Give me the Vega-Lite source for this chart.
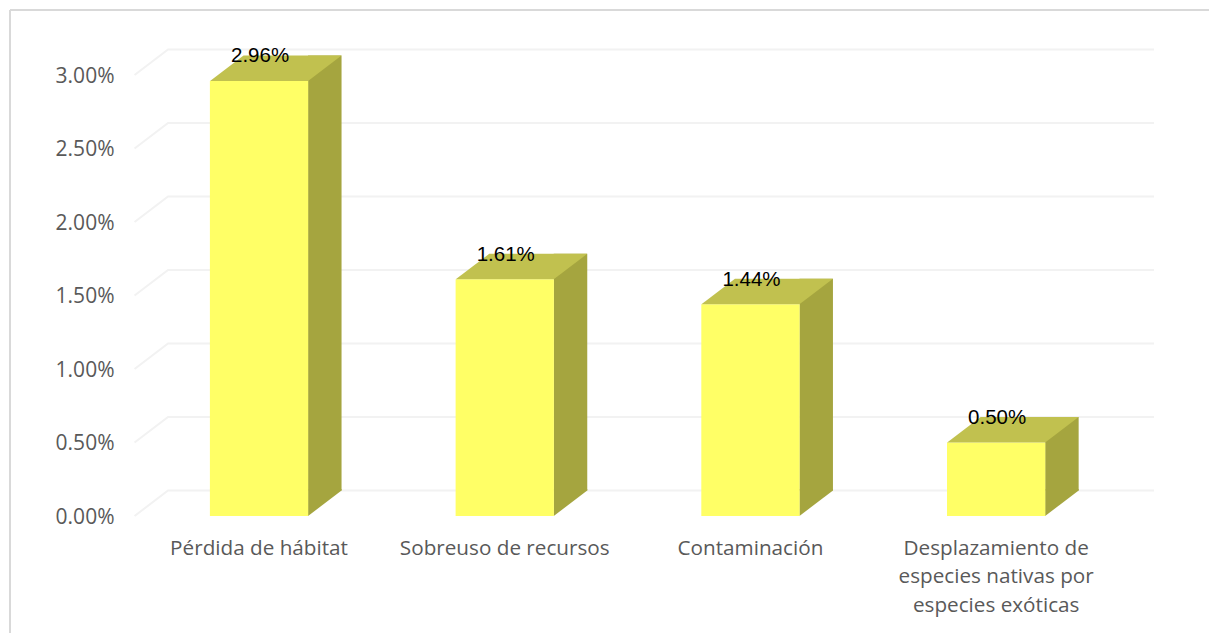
{
"$schema":"https://vega.github.io/schema/vega-lite/v6.json",
"width":1199,"height":623,
"autosize":{"type":"none"},
"padding":{"left":10,"top":10,"right":0,"bottom":0},
"background":"white",
"view":{"stroke":"#d9d9d9","strokeWidth":2,"strokeDash":[1199,1822,623,0],"fill":null},
"data":{"values":[
{"causa":"Pérdida de hábitat","valor":0.0296},
{"causa":"Sobreuso de recursos","valor":0.0161},
{"causa":"Contaminación","valor":0.0144},
{"causa":"Desplazamiento de especies nativas por especies exóticas","valor":0.005}
]},
"encoding":{
"x":{"field":"causa","type":"nominal","sort":null,"title":null,
"scale":{"domain":["Pérdida de hábitat","Sobreuso de recursos","Contaminación","Desplazamiento de especies nativas por especies exóticas"],"range":[126.2,1109],"paddingInner":0.6,"paddingOuter":0.3},
"axis":{"orient":"bottom","offset":-95,"domain":false,"ticks":false,"labelPadding":0,"labelAngle":0,"labelFont":"Open Sans","labelFontSize":20.7,"labelColor":"#595959","labelLineHeight":28.7,"labelLimit":0,"labelBaseline":"top",
"labelExpr":"datum.label == 'Desplazamiento de especies nativas por especies exóticas' ? ['Desplazamiento de','especies nativas por','especies exóticas'] : datum.label"}},
"y":{"field":"valor","type":"quantitative","title":null,
"scale":{"domain":[0,0.03],"range":[506,65],"nice":false,"zero":true},
"axis":{"orient":"left","offset":-104,"domain":false,"ticks":false,"grid":false,"labelPadding":0,"labelOffset":1,"values":[0,0.005,0.01,0.015,0.02,0.025,0.03],"format":".2%","labelFont":"Open Sans","labelFontSize":21,"labelColor":"#595959"}}
},
"layer":[
{"data":{"values":[{"causa":"Pérdida de hábitat","valor":0},{"causa":"Pérdida de hábitat","valor":0.005},{"causa":"Pérdida de hábitat","valor":0.01},{"causa":"Pérdida de hábitat","valor":0.015},{"causa":"Pérdida de hábitat","valor":0.02},{"causa":"Pérdida de hábitat","valor":0.025},{"causa":"Pérdida de hábitat","valor":0.03}]},
 "mark":{"type":"point","shape":"M-124.5,0 L-91,-25.5 L895,-25.5","size":4,"filled":false,"stroke":"#f2f2f2","strokeWidth":2,"opacity":1}},
{"mark":{"type":"bar","size":33.5,"xOffset":65.75,"yOffset":-25.5,"color":"#a5a53f"}},
{"mark":{"type":"point","shape":"M49,0 L82.5,-25.5 L82.5,-27 L49,-27 Z","size":4,"filled":true,"color":"#a5a53f","opacity":1},
 "encoding":{"y":{"datum":0,"type":"quantitative"}}},
{"mark":{"type":"bar","color":"#ffff66"}},
{"mark":{"type":"point","shape":"M-49,0 L49,0 L82.5,-25.5 L-15.5,-25.5 Z","size":4,"filled":true,"color":"#c1c14f","opacity":1}},
{"mark":{"type":"text","font":"Liberation Sans","fontSize":20.5,"color":"#000000","align":"center","baseline":"middle","xOffset":1,"yOffset":-24.5},
 "encoding":{"text":{"field":"valor","type":"quantitative","format":".2%"}}}
]
}
